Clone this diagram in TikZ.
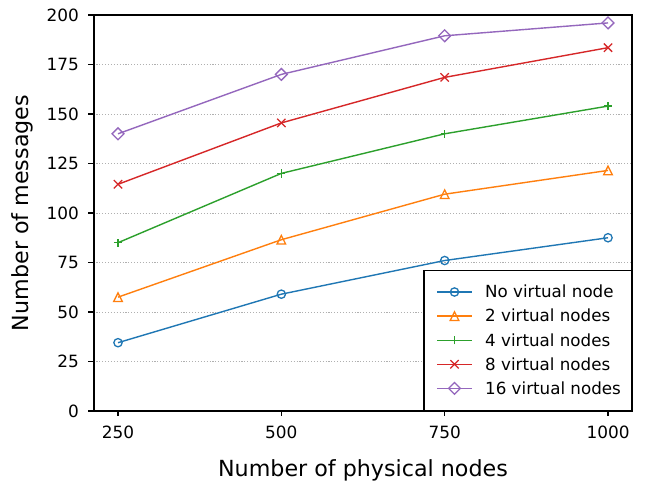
\documentclass[tikz,border=0pt]{standalone}
\usepackage{fontspec}
\setmainfont{DejaVu Sans}
\definecolor{cblue}{HTML}{1F77B4}
\definecolor{corange}{HTML}{FF7F0E}
\definecolor{cgreen}{HTML}{2CA02C}
\definecolor{cred}{HTML}{D62728}
\definecolor{cpurple}{HTML}{9467BD}
\definecolor{gridgray}{HTML}{B0B0B0}
\begin{document}
\begin{tikzpicture}[x=1pt,y=1pt,
  spine/.style={line width=1.1pt, line cap=rect},
  tickmark/.style={line width=1.1pt},
  gridline/.style={line width=0.9pt, color=gridgray, dash pattern=on 1.1pt off 1.8pt},
  series/.style={line width=1.4pt, line join=round},
  ticklab/.style={font=\fontsize{16.9}{20}\selectfont, inner sep=0pt},
  axlab/.style={font=\fontsize{22.2}{26}\selectfont, inner sep=0pt},
  leglab/.style={font=\fontsize{16.7}{20}\selectfont, inner sep=0pt, anchor=base west},
  mkcirc/.pic={\draw[line width=1.3pt] (0pt,0pt) circle[radius=4.15pt];},
  mktri/.pic={\draw[line width=1.3pt, line join=miter] (0pt,4.3pt) -- (-4.3pt,-4.3pt) -- (4.3pt,-4.3pt) -- cycle;},
  mkplus/.pic={\draw[line width=1.3pt] (-4.15pt,0pt) -- (4.15pt,0pt) (0pt,-4.15pt) -- (0pt,4.15pt);},
  mkx/.pic={\draw[line width=1.3pt] (-4.15pt,-4.15pt) -- (4.15pt,4.15pt) (-4.15pt,4.15pt) -- (4.15pt,-4.15pt);},
  mkdia/.pic={\draw[line width=1.3pt, line join=miter] (0pt,5.9pt) -- (5.9pt,0pt) -- (0pt,-5.9pt) -- (-5.9pt,0pt) -- cycle;}
]
\useasboundingbox (0,0) rectangle (645,483);
\fill[white] (0,0) rectangle (645,483);

% axes corners
\coordinate (ll) at (94,72);
\coordinate (ur) at (632,468);

\begin{scope}[x={(0.65333pt,0pt)}, y={(0pt,1.98pt)}, shift={(-45.33pt,72pt)}]
  % grid
  \foreach \v in {25,50,...,175} \draw[gridline] (212.5,\v) -- (1037.5,\v);
  % data points
  \foreach \n/\a/\b/\c/\d/\e in {250/34.5/57.5/85/114.5/140,
                                  500/59/86.5/120/145.5/170,
                                  750/76/109.5/140/168.5/189.5,
                                  1000/87.5/121.5/154/183.5/196}{
    \coordinate (b\n) at (\n,\a);
    \coordinate (o\n) at (\n,\b);
    \coordinate (g\n) at (\n,\c);
    \coordinate (r\n) at (\n,\d);
    \coordinate (p\n) at (\n,\e);
  }
  % series lines
  \draw[series, cblue]   (b250) -- (b500) -- (b750) -- (b1000);
  \draw[series, corange] (o250) -- (o500) -- (o750) -- (o1000);
  \draw[series, cgreen]  (g250) -- (g500) -- (g750) -- (g1000);
  \draw[series, cred]    (r250) -- (r500) -- (r750) -- (r1000);
  \draw[series, cpurple] (p250) -- (p500) -- (p750) -- (p1000);
  % markers
  \foreach \n in {250,500,750,1000}{
    \pic[cblue]   at (b\n) {mkcirc};
    \pic[corange] at (o\n) {mktri};
    \pic[cgreen]  at (g\n) {mkplus};
    \pic[cred]    at (r\n) {mkx};
    \pic[cpurple] at (p\n) {mkdia};
  }
  % x ticks
  \foreach \n in {250,500,750,1000}{
    \coordinate (xt\n) at (\n,0);
    \draw[tickmark] (xt\n) -- ++(0pt,-5.2pt);
    \node[ticklab, anchor=base] (xl\n) at ([yshift=-27.3pt]xt\n) {\n};
  }
  % y ticks
  \foreach \v in {0,25,...,200}{
    \coordinate (yt\v) at (212.5,\v);
    \draw[tickmark] (yt\v) -- ++(-5.2pt,0pt);
    \node[ticklab, anchor=base east] (yl\v) at ([xshift=-14.5pt,yshift=-6.2pt]yt\v) {\v};
  }
\end{scope}

% spines
\draw[spine] (ll) rectangle (ur);

% axis labels
\node[axlab, anchor=base] (xlabel) at (363,7) {Number of physical nodes};
\node[axlab, anchor=base, rotate=90] (ylabel) at (28,270) {Number of messages};

% legend
\node[draw, fill=white, line width=1.1pt, minimum width=207.5pt, minimum height=139.8pt,
      anchor=south east, inner sep=0pt] (legend) at (632,71.8) {};
\foreach \i/\yy/\col/\mk/\txt in {1/191/cblue/mkcirc/No virtual node,
                                  2/166.9/corange/mktri/2 virtual nodes,
                                  3/142.8/cgreen/mkplus/4 virtual nodes,
                                  4/118.7/cred/mkx/8 virtual nodes,
                                  5/94.6/cpurple/mkdia/16 virtual nodes}{
  \coordinate (la\i) at (437,\yy);
  \coordinate (lb\i) at (472,\yy);
  \coordinate (lm\i) at (454.5,\yy);
  \draw[series, \col] (la\i) -- (lb\i);
  \pic[\col] at (lm\i) {\mk};
  \node[leglab] (lt\i) at (485,\yy-5.8) {\txt};
}
\end{tikzpicture}
\end{document}
